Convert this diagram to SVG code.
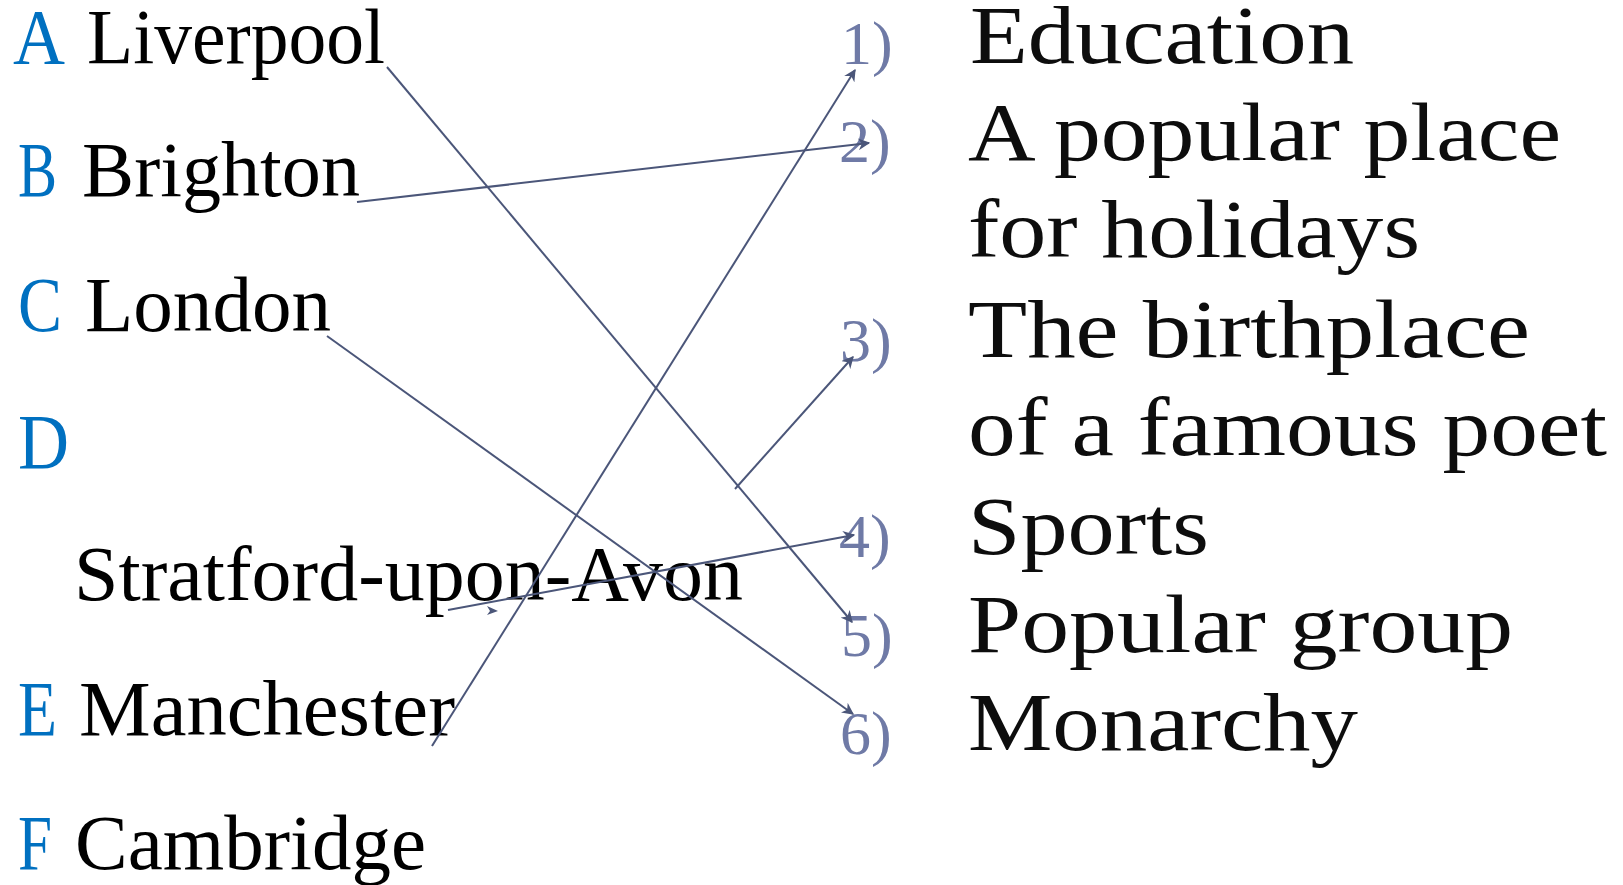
<svg xmlns="http://www.w3.org/2000/svg" width="1623" height="885" viewBox="0 0 1623 885">
<style>
text{font-family:"Liberation Serif","Times New Roman",serif}
.let{fill:#0070c0;font-size:78px}
.city{fill:#000;font-size:78px}
.num{fill:#6f7aa6;font-size:62px}
.ans{fill:#0d0d0d;font-size:82px}
.con{stroke:#4b5679;stroke-width:2;fill:none}
</style>
<defs>
<marker id="arrb" viewBox="0 0 10 10" refX="9" refY="5" markerWidth="12" markerHeight="12" markerUnits="userSpaceOnUse" orient="auto">
<path d="M0,0 L10,5 L0,10 L3,5 z" fill="#4b5679"/>
</marker>
</defs>
<rect width="1623" height="885" fill="#fff"/>
<g id="left-A"><text class="let" x="13" y="63" textLength="52" lengthAdjust="spacingAndGlyphs">A</text><text class="city" x="87" y="63" textLength="298" lengthAdjust="spacingAndGlyphs">Liverpool</text></g>
<g id="left-B"><text class="let" x="18" y="196" textLength="39" lengthAdjust="spacingAndGlyphs">B</text><text class="city" x="82" y="196" textLength="278" lengthAdjust="spacingAndGlyphs">Brighton</text></g>
<g id="left-C"><text class="let" x="18" y="331" textLength="44" lengthAdjust="spacingAndGlyphs">C</text><text class="city" x="85" y="331" textLength="246" lengthAdjust="spacingAndGlyphs">London</text></g>
<g id="left-D"><text class="let" x="18" y="468" textLength="51" lengthAdjust="spacingAndGlyphs">D</text><text class="city" x="74" y="600" textLength="669" lengthAdjust="spacingAndGlyphs">Stratford-upon-Avon</text></g>
<g id="left-E"><text class="let" x="18" y="735" textLength="39" lengthAdjust="spacingAndGlyphs">E</text><text class="city" x="79" y="735" textLength="376" lengthAdjust="spacingAndGlyphs">Manchester</text></g>
<g id="left-F"><text class="let" x="18" y="869" textLength="34" lengthAdjust="spacingAndGlyphs">F</text><text class="city" x="75" y="869" textLength="351" lengthAdjust="spacingAndGlyphs">Cambridge</text></g>
<g id="right-1"><text class="num" x="841" y="64">1)</text><text class="ans" x="970" y="63" textLength="384" lengthAdjust="spacingAndGlyphs">Education</text></g>
<g id="right-2"><text class="num" x="839" y="162">2)</text><text class="ans" x="968" y="160" textLength="593" lengthAdjust="spacingAndGlyphs">A popular place</text><text class="ans" x="968" y="257" textLength="452" lengthAdjust="spacingAndGlyphs">for holidays</text></g>
<g id="right-3"><text class="num" x="840" y="361">3)</text><text class="ans" x="968" y="357" textLength="562" lengthAdjust="spacingAndGlyphs">The birthplace</text><text class="ans" x="968" y="455" textLength="639" lengthAdjust="spacingAndGlyphs">of a famous poet</text></g>
<g id="right-4"><text class="num" x="839" y="557">4)</text><text class="ans" x="968" y="554" textLength="241" lengthAdjust="spacingAndGlyphs">Sports</text></g>
<g id="right-5"><text class="num" x="841" y="656">5)</text><text class="ans" x="968" y="652" textLength="545" lengthAdjust="spacingAndGlyphs">Popular group</text></g>
<g id="right-6"><text class="num" x="840" y="754">6)</text><text class="ans" x="968" y="750" textLength="390" lengthAdjust="spacingAndGlyphs">Monarchy</text></g>
<g id="connectors">
<line class="con" x1="387" y1="67" x2="852" y2="622" marker-end="url(#arrb)"/>
<line class="con" x1="357" y1="202" x2="869" y2="143" marker-end="url(#arrb)"/>
<line class="con" x1="327" y1="336" x2="853" y2="714" marker-end="url(#arrb)"/>
<line class="con" x1="448" y1="610" x2="854" y2="535" marker-end="url(#arrb)"/>
<path d="M487,606 L498,611 L487,615 L490,611 z" fill="#4b5679"/>
<line class="con" x1="432" y1="746" x2="855" y2="70" marker-end="url(#arrb)"/>
<line class="con" x1="735" y1="489" x2="853" y2="357" marker-end="url(#arrb)"/>
</g>
</svg>
